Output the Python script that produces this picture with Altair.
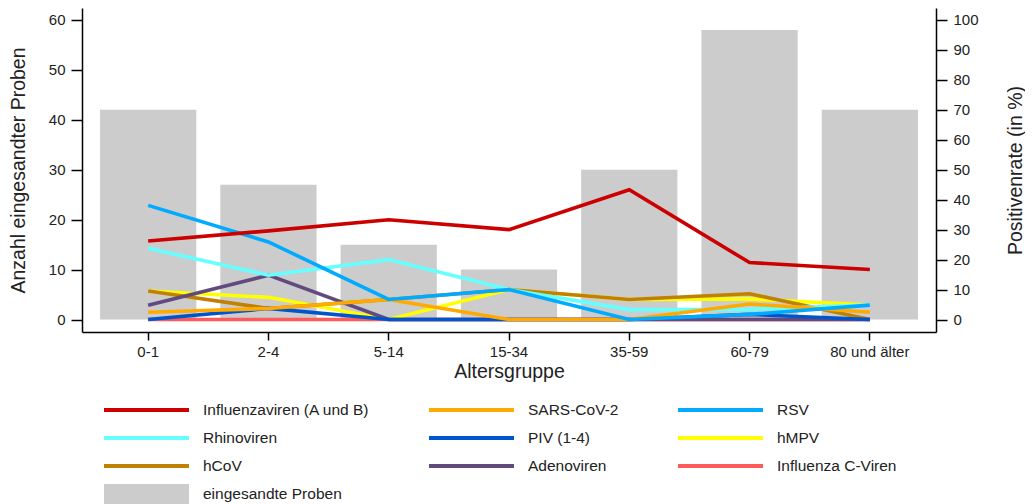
import altair as alt
import pandas as pd

# Altersgruppen und Anzahl eingesandter Proben (linke Achse)
altersgruppen = ["0-1", "2-4", "5-14", "15-34", "35-59", "60-79", "80 und älter"]
proben = [42, 27, 15, 10, 30, 58, 42]

# Positivenraten in % (rechte Achse)
influenza = [26.2, 29.6, 33.3, 30.0, 43.3, 19.0, 16.7]
sars_cov_2 = [2.4, 3.7, 6.7, 0.0, 0.0, 5.2, 2.4]
rsv = [38.1, 25.9, 6.7, 10.0, 0.0, 1.7, 4.8]
rhinoviren = [23.8, 14.8, 20.0, 10.0, 3.3, 3.4, 4.8]
piv = [0.0, 3.7, 0.0, 0.0, 0.0, 1.7, 0.0]
hmpv = [9.5, 7.4, 0.0, 10.0, 6.7, 6.9, 4.8]
hcov = [9.5, 3.7, 6.7, 10.0, 6.7, 8.6, 0.0]
adenoviren = [4.8, 14.8, 0.0, 0.0, 0.0, 0.0, 0.0]
influenza_c = [0.0, 0.0, 0.0, 0.0, 0.0, 0.0, 0.0]

viren = [
    "Influenzaviren (A und B)", "SARS-CoV-2", "RSV",
    "Rhinoviren", "PIV (1-4)", "hMPV",
    "hCoV", "Adenoviren", "Influenza C-Viren",
]
farben = [
    "#CC0000", "#FFAA00", "#00AAFF",
    "#66FFFF", "#0055CC", "#FFFF00",
    "#C08000", "#624A7E", "#FF5A5A",
]
raten = [influenza, sars_cov_2, rsv, rhinoviren, piv, hmpv, hcov, adenoviren, influenza_c]

# Reihenfolge, in der die Linien übereinander gezeichnet werden (unten -> oben)
zeichenfolge = [
    "Influenza C-Viren", "hMPV", "hCoV", "Adenoviren", "Rhinoviren",
    "PIV (1-4)", "SARS-CoV-2", "RSV", "Influenzaviren (A und B)",
]

FONT = "Liberation Sans"

bar_df = pd.DataFrame({
    "altersgruppe": altersgruppen,
    "proben": proben,
    "serie": "eingesandte Proben",
})

werte_je_virus = dict(zip(viren, raten))
line_df = pd.DataFrame([
    {"altersgruppe": g, "rate": r, "virus": v}
    for v in zeichenfolge
    for g, r in zip(altersgruppen, werte_je_virus[v])
])

x_enc = alt.X(
    "altersgruppe:N",
    sort=altersgruppen,
    title="Altersgruppe",
    scale=alt.Scale(paddingInner=0.2, paddingOuter=0.15),
    axis=alt.Axis(labelAngle=0, tickSize=8, labelPadding=4, titlePadding=3),
)

bars = (
    alt.Chart(bar_df)
    .mark_bar()
    .encode(
        x=x_enc,
        y=alt.Y(
            "proben:Q",
            title="Anzahl eingesandter Proben",
            scale=alt.Scale(domain=[-2.5, 62.4], nice=False, zero=False),
            axis=alt.Axis(values=[0, 10, 20, 30, 40, 50, 60], tickSize=11,
                          labelPadding=6, titlePadding=20),
        ),
        y2=alt.datum(0),
        color=alt.Color(
            "serie:N",
            scale=alt.Scale(range=["#CCCCCC"]),
            legend=alt.Legend(
                title=None, orient="none", legendX=22, legendY=476,
                symbolType="M-1,-0.235H1V0.235H-1Z", symbolSize=7225,
                symbolStrokeWidth=0, clipHeight=20, labelOffset=14,
                labelFontSize=15.5, labelFont=FONT, labelColor="#222222", padding=0,
            ),
        ),
    )
)

lines = (
    alt.Chart(line_df)
    .mark_line(strokeWidth=3.6)
    .encode(
        x=x_enc,
        y=alt.Y(
            "rate:Q",
            title="Positivenrate (in %)",
            scale=alt.Scale(domain=[-4.17, 104.0], nice=False, zero=False),
            axis=alt.Axis(orient="right", values=list(range(0, 101, 10)), tickSize=11,
                          labelPadding=6, titlePadding=28, titleAngle=270,
                          titleBaseline="top"),
        ),
        color=alt.Color(
            "virus:N",
            scale=alt.Scale(domain=viren, range=farben),
            legend=alt.Legend(
                title=None, orient="none", legendX=20, legendY=392, columns=3,
                direction="horizontal", symbolType="stroke", symbolSize=7225,
                symbolStrokeWidth=4, clipHeight=20, labelOffset=12,
                labelFontSize=15.5, labelFont=FONT, labelColor="#222222",
                labelLimit=300, columnPadding=57, rowPadding=8, padding=0,
            ),
        ),
    )
)

chart = (
    alt.layer(bars, lines)
    .resolve_scale(y="independent", color="independent")
    .resolve_legend(color="independent")
    .properties(width=854, height=324, padding={"left": 0, "top": 0, "right": 0, "bottom": 0})
    .configure_view(stroke=None)
    .configure_axis(
        grid=False,
        domainColor="black",
        domainWidth=1.5,
        tickColor="black",
        tickWidth=1.5,
        labelFont=FONT,
        labelFontSize=15,
        labelColor="#222222",
        titleFont=FONT,
        titleFontSize=19.5,
        titleFontWeight="normal",
        titleColor="#222222",
    )
)

chart.save("out.html", embed_options={"renderer": "svg", "actions": False})
